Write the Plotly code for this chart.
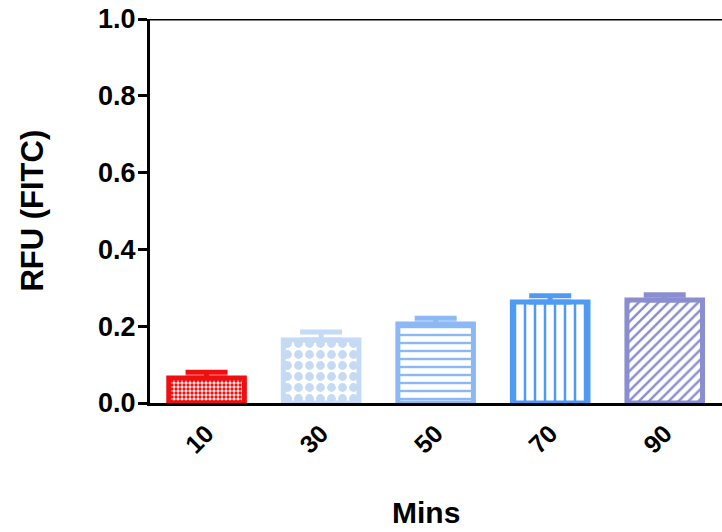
import plotly.graph_objects as go

# Fluorescence readings over time
minutes = ["10", "30", "50", "70", "90"]
rfu_mean = [0.065, 0.164, 0.206, 0.263, 0.268]
rfu_err = [0.015, 0.021, 0.015, 0.016, 0.014]
y_ticks = [0.0, 0.2, 0.4, 0.6, 0.8, 1.0]

bar_colors = ["#ee1010", "#c4daf5", "#8cb9f4", "#4f9bf3", "#8a8ed0"]
patterns = [
    dict(shape=".", size=4, solidity=0.55),
    dict(shape=".", size=11, solidity=0.5),
    dict(shape="-", size=8, solidity=0.3),
    dict(shape="|", size=10, solidity=0.25),
    dict(shape="/", size=7, solidity=0.35),
]

FONT = "Liberation Sans, Arial, Helvetica, sans-serif"

fig = go.Figure()
for i, m in enumerate(minutes):
    col = bar_colors[i]
    fig.add_trace(go.Bar(
        x=[m], y=[rfu_mean[i]],
        width=0.66,
        marker=dict(
            color="white",
            line=dict(color=col, width=5),
            pattern=dict(fgcolor=col, bgcolor="white", fillmode="replace", **patterns[i]),
        ),
        error_y=dict(type="data", array=[rfu_err[i]], arrayminus=[0], symmetric=False,
                     color=col, thickness=5, width=21),
        showlegend=False,
    ))

fig.update_layout(
    width=722, height=532,
    margin=dict(l=150, r=0, t=19, b=129),
    paper_bgcolor="white", plot_bgcolor="white",
    font=dict(family=FONT, color="black"),
    xaxis=dict(
        type="category", range=[-0.494, 4.5],
        showline=True, linecolor="black", linewidth=3,
        ticks="", showgrid=False, zeroline=False,
        tickangle=-45, ticklabelstandoff=3,
        tickfont=dict(family=FONT, size=25, color="black", weight="bold"),
    ),
    yaxis=dict(
        range=[0, 1.0], tickvals=y_ticks, ticktext=[f"{v:.1f}" for v in y_ticks],
        showline=True, linecolor="black", linewidth=3,
        ticks="outside", ticklen=9, tickwidth=3, tickcolor="black",
        showgrid=False, zeroline=False, ticklabelstandoff=-3,
        tickfont=dict(family=FONT, size=27, color="black", weight="bold"),
    ),
    shapes=[
        dict(type="line", xref="paper", yref="y", x0=0, x1=1, y0=1.0, y1=1.0,
             line=dict(color="black", width=3)),
    ],
    annotations=[
        dict(text="RFU (FITC)", xref="paper", yref="paper", x=-0.207, y=0.5,
             textangle=-90, showarrow=False, xanchor="center", yanchor="middle",
             font=dict(family=FONT, size=31, color="black", weight="bold")),
        dict(text="Mins", xref="paper", yref="paper", x=0.4825, y=-0.285,
             showarrow=False, xanchor="center", yanchor="middle",
             font=dict(family=FONT, size=30, color="black", weight="bold")),
    ],
)

fig.write_html("out.html")
